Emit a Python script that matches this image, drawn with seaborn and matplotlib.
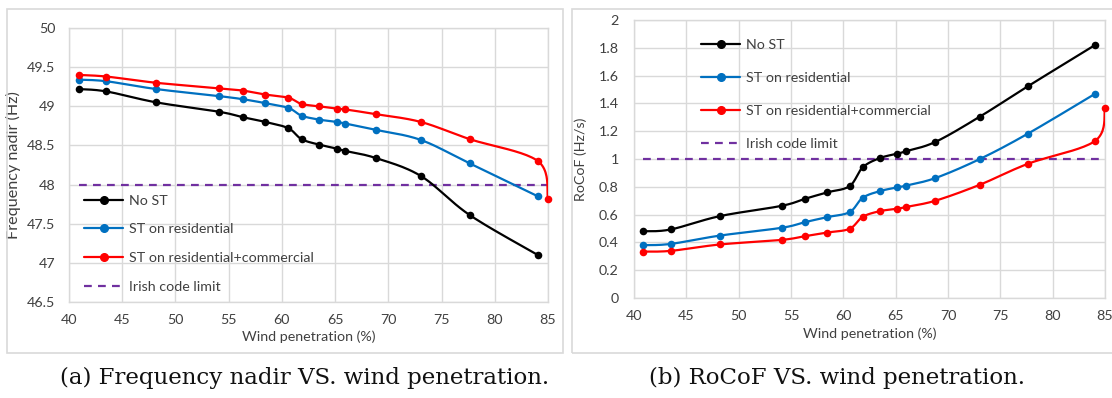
import numpy as np
import pandas as pd
import matplotlib
matplotlib.use("Agg")
import matplotlib.pyplot as plt
import seaborn as sns
from matplotlib.lines import Line2D
from matplotlib.patches import Rectangle
from matplotlib.ticker import MultipleLocator, FormatStrFormatter

# Wind penetration (%) at each simulated operating point
wind = [40.9, 43.5, 48.2, 54.1, 56.35, 58.45, 60.6, 61.85, 63.5, 65.15, 65.95, 68.8, 73.05, 77.65, 84.05]
wind_res_com = wind + [85.0]

# Frequency nadir (Hz)
nadir_no_st = [49.22, 49.19, 49.05, 48.93, 48.86, 48.80, 48.72, 48.58, 48.51, 48.46, 48.43, 48.34, 48.11, 47.61, 47.10]
nadir_res = [49.34, 49.32, 49.22, 49.13, 49.09, 49.04, 48.98, 48.88, 48.83, 48.80, 48.78, 48.70, 48.57, 48.27, 47.85]
nadir_res_com = [49.40, 49.38, 49.30, 49.23, 49.20, 49.15, 49.11, 49.03, 49.00, 48.97, 48.96, 48.90, 48.80, 48.58, 48.30, 47.82]
nadir_limit = 48.0

# RoCoF (Hz/s)
rocof_no_st = [0.48, 0.493, 0.589, 0.663, 0.714, 0.760, 0.805, 0.940, 1.007, 1.038, 1.055, 1.123, 1.305, 1.524, 1.820]
rocof_res = [0.380, 0.389, 0.449, 0.505, 0.546, 0.582, 0.618, 0.721, 0.769, 0.796, 0.808, 0.863, 1.000, 1.183, 1.469]
rocof_res_com = [0.334, 0.339, 0.385, 0.418, 0.445, 0.471, 0.498, 0.584, 0.625, 0.642, 0.654, 0.700, 0.815, 0.966, 1.130, 1.370]
rocof_limit = 1.0

limit_span = [40.9, 85.0]

series_names = ["No ST", "ST on residential", "ST on residential+commercial", "Irish code limit"]
colors = ["#000000", "#0070C0", "#FF0000", "#7030A0"]

sns.set_theme(style="whitegrid")
plt.rcParams["font.family"] = ["Lato", "DejaVu Sans"]

GRID = "#D9D9D9"
TEXT = "#404040"
LW = 1.6
MS = 30
FS = 10.3


def smooth_curve(x, y, n=24):
    """Bezier smoothing through every point (spreadsheet-style smoothed line)."""
    P = np.column_stack([x, y]).astype(float)
    t = np.linspace(0, 1, n)[:, None]
    out = []
    for i in range(len(P) - 1):
        p0 = P[i - 1] if i > 0 else P[i]
        p3 = P[i + 2] if i + 2 < len(P) else P[i + 1]
        p1, p2 = P[i], P[i + 1]
        c1 = p1 + (p2 - p0) / 6.0
        c2 = p2 - (p3 - p1) / 6.0
        seg = (1 - t) ** 3 * p1 + 3 * (1 - t) ** 2 * t * c1 + 3 * (1 - t) * t ** 2 * c2 + t ** 3 * p2
        out.append(seg if i == 0 else seg[1:])
    pts = np.vstack(out)
    return pd.DataFrame({"x": pts[:, 0], "y": pts[:, 1]})


def draw_panel(ax, xs_list, ys_list, limit):
    for xs, ys, c in zip(xs_list, ys_list, colors[:3]):
        curve = smooth_curve(xs, ys)
        sns.lineplot(data=curve, x="x", y="y", ax=ax, color=c, lw=LW,
                     sort=False, estimator=None, zorder=3)
        sns.scatterplot(x=xs, y=ys, ax=ax, color=c, s=MS, edgecolor=c,
                        linewidth=0, zorder=4, clip_on=False)
    sns.lineplot(x=limit_span, y=[limit, limit], ax=ax, color=colors[3], lw=LW,
                 zorder=2).lines[-1].set_dashes((3.5, 2.8))
    ax.set_xlim(40, 85)
    ax.xaxis.set_major_locator(MultipleLocator(5))
    ax.grid(True, color=GRID, lw=1.0)
    for sp in ax.spines.values():
        sp.set_color(GRID)
        sp.set_linewidth(1.0)
    ax.tick_params(axis="both", length=0, labelsize=FS, colors=TEXT)
    ax.tick_params(axis="x", pad=9)
    ax.set_xlabel("Wind penetration (%)", fontsize=FS, color=TEXT)
    ax.xaxis.set_label_coords(0.5, -0.105)
    ax.set_facecolor("white")


def legend_handles():
    h = [Line2D([], [], color=c, lw=LW, marker="o", markersize=5.5) for c in colors[:3]]
    h.append(Line2D([], [], color=colors[3], lw=LW, dashes=(3.5, 2.8)))
    return h


W, H = 1112, 398
fig = plt.figure(figsize=(W / 100, H / 100), dpi=100)
fig.patch.set_facecolor("white")

# Chart frames
fig.patches.append(Rectangle((7 / W, 1 - 353 / H), (563 - 7) / W, (353 - 9) / H,
                             transform=fig.transFigure, fill=False, ec=GRID, lw=1.2))
fig.patches.append(Rectangle((572 / W, 1 - 353 / H), (1130 - 572) / W, (353 - 9) / H,
                             transform=fig.transFigure, fill=False, ec=GRID, lw=1.2))

# (a) Frequency nadir
ax1 = fig.add_axes([69 / W, 1 - 302 / H, (548 - 69) / W, (302 - 28) / H])
draw_panel(ax1, [wind, wind, wind_res_com], [nadir_no_st, nadir_res, nadir_res_com], nadir_limit)
ax1.set_ylim(46.5, 50)
ax1.yaxis.set_major_locator(MultipleLocator(0.5))
ax1.yaxis.set_major_formatter(FormatStrFormatter("%g"))
ax1.tick_params(axis="y", pad=10)
ax1.set_ylabel("Frequency nadir (Hz)", fontsize=11.6, color=TEXT)
ax1.yaxis.set_label_coords(-0.100, 0.5)
ax1.legend(legend_handles(), series_names, loc="upper left", bbox_to_anchor=(0.031, 0.392),
           frameon=False, fontsize=FS, handlelength=2.75, handletextpad=0.42,
           labelspacing=1.17, borderpad=0, borderaxespad=0, labelcolor=TEXT)

# (b) RoCoF
ax2 = fig.add_axes([634 / W, 1 - 298 / H, (1105 - 634) / W, (298 - 20) / H])
draw_panel(ax2, [wind, wind, wind_res_com], [rocof_no_st, rocof_res, rocof_res_com], rocof_limit)
ax2.set_ylim(0, 2)
ax2.yaxis.set_major_locator(MultipleLocator(0.2))
ax2.yaxis.set_major_formatter(FormatStrFormatter("%g"))
ax2.tick_params(axis="y", pad=11)
ax2.set_ylabel("RoCoF (Hz/s)", fontsize=FS, color=TEXT)
ax2.yaxis.set_label_coords(-0.10, 0.5)
ax2.legend(legend_handles(), series_names, loc="upper left", bbox_to_anchor=(0.142, 0.93),
           frameon=False, fontsize=FS, handlelength=2.75, handletextpad=0.42,
           labelspacing=1.45, borderpad=0, borderaxespad=0, labelcolor=TEXT)

# Captions
fig.text(305 / W, 1 - 378 / H, "(a) Frequency nadir VS. wind penetration.",
         family="DejaVu Serif", fontsize=16.5, ha="center", va="center", color="#111111")
fig.text(837 / W, 1 - 378 / H, "(b) RoCoF VS. wind penetration.",
         family="DejaVu Serif", fontsize=16.5, ha="center", va="center", color="#111111")

fig.savefig("out.png", dpi=100, facecolor="white")
